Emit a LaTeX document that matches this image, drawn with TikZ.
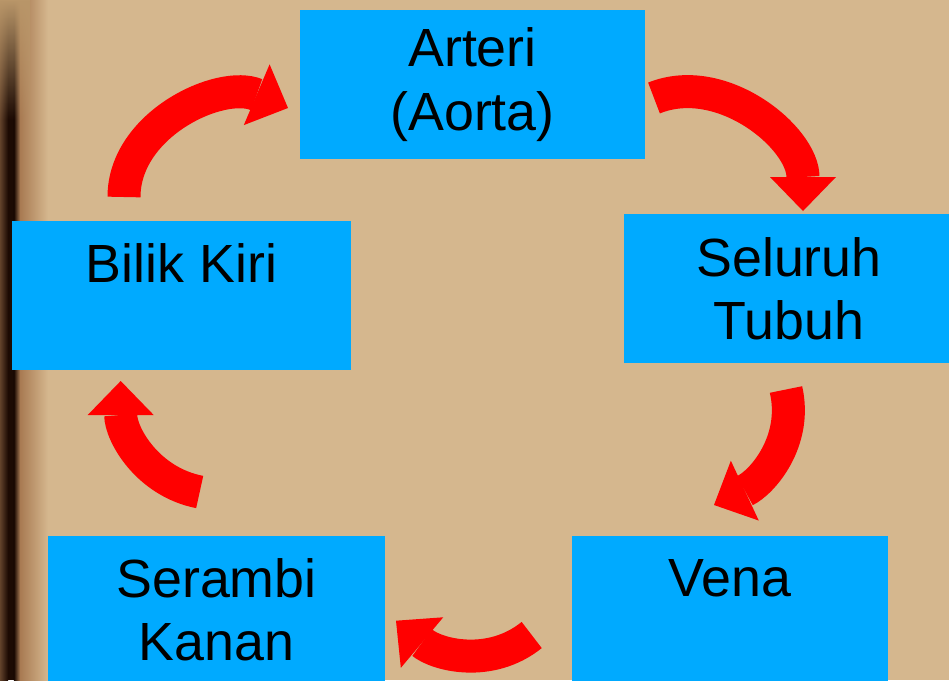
\documentclass[tikz,border=0pt]{standalone}
\usepackage{fontspec}
\setmainfont{Liberation Sans}
\usetikzlibrary{arrows.meta,fadings}

\definecolor{boxblue}{RGB}{0,170,255}
\definecolor{flowred}{RGB}{255,0,0}
\definecolor{paper}{RGB}{213,183,142}
\definecolor{woodmid}{RGB}{168,122,82}
\definecolor{wooddark}{RGB}{28,10,3}
\definecolor{woodlight}{RGB}{185,150,105}

\begin{document}
\begin{tikzpicture}[flow/.style={color=flowred, line width=3.3mm, -{Triangle[width=6.6mm, length=3.4mm, line width=0pt]}},
    box/.style={rectangle, fill=boxblue, minimum height=1.49cm, inner sep=0pt, align=center, font=\fontsize{15.3pt}{18pt}\selectfont}]

            \useasboundingbox (0,0) rectangle (9.49,6.80);
            \clip (0,0) rectangle (9.49,6.80);
            \fill[paper] (0,0) rectangle (9.49,6.80);
            \shade[left color=woodmid, right color=paper] (0.20,0) rectangle (0.48,6.80);
            \shade[left color=woodmid!50!wooddark, right color=wooddark] (0,0) rectangle (0.08,6.80);
            \fill[wooddark] (0.08,0) rectangle (0.14,6.80);
            \shade[left color=wooddark, right color=woodmid] (0.14,0) rectangle (0.20,6.80);
            \fill[woodlight, path fading=south] (0,5.60) rectangle (0.30,6.80);

            \node[box, minimum width=3.45cm] (1) at (4.725,5.955) {Arteri\\(Aorta)};
            \node[box, minimum width=3.30cm] (2) at (7.89,3.915) {Seluruh\\Tubuh};

            \node[box, minimum width=3.16cm] (3) at (7.30,0.70) {Vena\\\mbox{}};
            \node[box, minimum width=3.37cm] (4) at (2.165,0.70) {Serambi\\Kanan};

            \node[box, minimum width=3.39cm] (5) at (1.815,3.85) {Bilik Kiri\\\mbox{}};

            \coordinate (s1) at (1.24,4.83);
            \coordinate (e1) at (2.88,5.72);
            \coordinate (s2) at (6.54,5.82);
            \coordinate (e2) at (8.03,4.69);
            \coordinate (s3) at (7.86,2.905);
            \coordinate (e3) at (7.14,1.75);
            \coordinate (s4) at (5.317,0.45);
            \coordinate (e4) at (3.96,0.593);
            \coordinate (s5) at (1.997,1.88);
            \coordinate (e5) at (1.207,2.99);

            \path[every edge/.append style={flow}]
                (s1) edge[out=90, in=157] (e1)
                (s2) edge[out=22, in=90] (e2)
                (s3) edge[out=-77, in=25] (e3)
                (s4) edge[out=219, in=-40] (e4)
                (s5) edge[out=169, in=-90] (e5)
                ;
        \end{tikzpicture}
\end{document}
